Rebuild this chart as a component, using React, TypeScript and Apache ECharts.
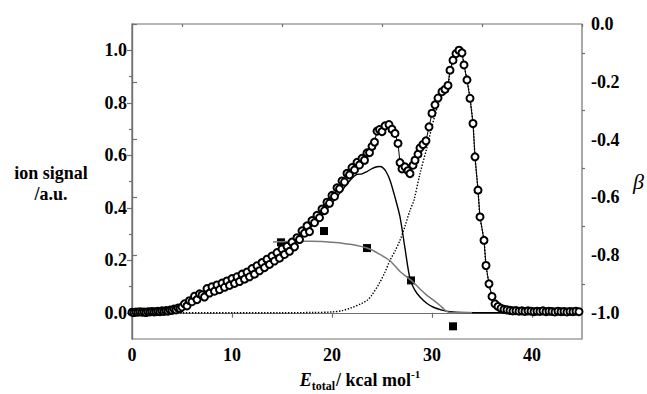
import React, { useEffect, useRef } from "react";
import * as echarts from "echarts";

// ---- data ----
const ionE = [
  0, 0.2, 0.4, 0.6, 0.8, 1.0, 1.2, 1.4, 1.6, 1.8, 2.0, 2.2, 2.4, 2.6, 2.8, 3.0, 3.2, 3.4, 3.6, 3.8, 4.0, 4.2, 4.4, 4.6, 4.8,
  5.0, 5.25, 5.5, 5.75, 6.0, 6.25, 6.5, 6.75, 7.0, 7.25, 7.5, 7.75, 8.0, 8.25, 8.5, 8.75, 9.0, 9.25, 9.5, 9.75,
  10.0, 10.25, 10.5, 10.75, 11.0, 11.25, 11.5, 11.75, 12.0, 12.25, 12.5, 12.75, 13.0, 13.25, 13.5, 13.75,
  14.0, 14.25, 14.5, 14.75, 15.0, 15.25, 15.5, 15.75, 16.0, 16.25, 16.5, 16.75, 17.0, 17.25, 17.5, 17.75,
  18.0, 18.25, 18.5, 18.75, 19.0, 19.25, 19.5, 19.75, 20.0, 20.25, 20.5, 20.75, 21.0, 21.25, 21.5, 21.75,
  22.0, 22.25, 22.5, 22.75, 23.0, 23.25, 23.5, 23.75, 24.0, 24.25, 24.5, 24.75, 25.0, 25.3, 25.7, 26.0,
  26.3, 26.6, 26.8, 27.0, 27.3, 27.6, 27.8, 28.1, 28.3, 28.6, 28.8, 29.1, 29.4, 29.7, 30.0, 30.3, 30.6,
  31.0, 31.3, 31.6, 31.8, 32.1, 32.4, 32.7, 33.0, 33.2, 33.5, 33.8, 34.1, 34.3, 34.6, 34.8, 35.2, 35.4,
  35.7, 36.0, 36.3, 36.6, 36.9, 37.2, 37.5,
  37.8, 38.1, 38.4, 38.7, 39.0, 39.3, 39.6, 39.9, 40.2, 40.5, 40.8, 41.1, 41.4, 41.7, 42.0, 42.3, 42.6,
  42.9, 43.2, 43.5, 43.8, 44.1, 44.4, 44.7,
];
const ionSignal = [
  0.002, 0.001, 0.003, 0.002, 0.004, 0.002, 0.003, 0.001, 0.004, 0.003, 0.005, 0.003, 0.004, 0.006, 0.004, 0.007, 0.005, 0.008, 0.006, 0.010, 0.009, 0.014, 0.011, 0.018, 0.016,
  0.022, 0.034, 0.026, 0.046, 0.042, 0.063, 0.050, 0.072, 0.068, 0.060, 0.092, 0.075, 0.099, 0.082, 0.106, 0.088, 0.113, 0.097, 0.121, 0.104,
  0.130, 0.112, 0.137, 0.119, 0.147, 0.128, 0.155, 0.137, 0.168, 0.147, 0.179, 0.160, 0.191, 0.172, 0.204, 0.184,
  0.216, 0.197, 0.229, 0.208, 0.243, 0.222, 0.253, 0.234, 0.269, 0.251, 0.286, 0.279, 0.312, 0.303, 0.331, 0.309,
  0.351, 0.343, 0.371, 0.362, 0.395, 0.389, 0.421, 0.417, 0.447, 0.443, 0.476, 0.472, 0.502, 0.498, 0.531, 0.525,
  0.553, 0.544, 0.573, 0.563, 0.588, 0.581, 0.609, 0.610, 0.634, 0.650, 0.692, 0.698, 0.690, 0.712, 0.717, 0.699,
  0.683, 0.645, 0.572, 0.548, 0.556, 0.541, 0.530, 0.562, 0.581, 0.604, 0.628, 0.641, 0.655, 0.708, 0.760, 0.792, 0.818,
  0.842, 0.851, 0.866, 0.924, 0.962, 0.987, 1.000, 0.990, 0.944, 0.887, 0.817, 0.721, 0.594, 0.467, 0.365, 0.276, 0.180,
  0.110, 0.062, 0.034, 0.024, 0.017, 0.013, 0.011,
  0.009, 0.007, 0.008, 0.006, 0.007, 0.005, 0.007, 0.006, 0.004, 0.006, 0.005, 0.007, 0.004, 0.006, 0.005, 0.003, 0.006,
  0.004, 0.005, 0.003, 0.005, 0.004, 0.006, 0.004,
];

const fit1E = [0, 2, 4, 4.5, 5, 6, 7, 8, 9, 10, 11, 12, 13, 14, 15, 16, 17, 18, 19, 20, 21, 22, 22.5, 23, 23.5, 24, 24.5, 24.8, 25.1, 25.4, 25.8, 26.3, 26.8, 27.3, 27.8, 28.3, 28.8, 29.5, 30.2, 31, 31.8, 33, 36, 40, 45];
const fit1Val = [0, 0, 0, 0.003, 0.012, 0.032, 0.052, 0.074, 0.094, 0.113, 0.132, 0.152, 0.176, 0.2, 0.228, 0.258, 0.292, 0.33, 0.372, 0.418, 0.466, 0.512, 0.527, 0.529, 0.538, 0.549, 0.556, 0.557, 0.552, 0.538, 0.505, 0.44, 0.365, 0.245, 0.13, 0.085, 0.06, 0.035, 0.02, 0.01, 0.004, 0.001, 0, 0, 0];

const fit2E = [0, 5, 10, 15, 18, 20, 21, 22, 23, 23.5, 24, 24.8, 25.3, 25.8, 26.3, 26.8, 27.3, 27.8, 28.2, 28.8, 29.5, 30.0, 30.5, 31.0, 31.6, 31.8, 32.1, 32.4, 32.7, 33.0, 33.2, 33.5, 33.8, 34.1, 34.3, 34.6, 34.8, 35.2, 35.4, 35.7, 36.0, 36.3, 36.9, 37.5, 40, 45];
const fit2Val = [0, 0, 0, 0, 0.001, 0.003, 0.008, 0.02, 0.036, 0.047, 0.068, 0.117, 0.155, 0.2, 0.235, 0.276, 0.33, 0.39, 0.43, 0.53, 0.63, 0.71, 0.78, 0.83, 0.87, 0.92, 0.96, 0.985, 0.998, 0.99, 0.944, 0.887, 0.817, 0.721, 0.594, 0.467, 0.365, 0.276, 0.18, 0.11, 0.062, 0.034, 0.017, 0.008, 0.002, 0];

const betaFitE = [14.1, 15, 16, 17, 18, 19, 20, 21, 22, 23, 23.5, 24.2, 24.8, 25.3, 25.8, 26.3, 26.8, 27.4, 28.0, 28.8, 29.5, 30.2, 30.8, 31.2, 31.5, 32, 33, 34];
const betaFitVal = [-0.755, -0.754, -0.753, -0.752, -0.752, -0.753, -0.756, -0.759, -0.764, -0.771, -0.776, -0.786, -0.798, -0.808, -0.82, -0.838, -0.857, -0.874, -0.89, -0.918, -0.94, -0.958, -0.975, -0.988, -0.996, -1.0, -1.0, -1.0];

const betaE = [14.9, 19.2, 23.5, 27.9, 32.1];
const betaVal = [-0.756, -0.717, -0.776, -0.888, -1.047];

const xMajorTicks = [0, 10, 20, 30, 40];
const xMinorTicks = [5, 15, 25, 35, 45];
const yLeftTicks = [0, 0.2, 0.4, 0.6, 0.8, 1.0];
const yLeftMinor = [0.1, 0.3, 0.5, 0.7, 0.9];
const yRightTicks = [0, -0.2, -0.4, -0.6, -0.8, -1.0];
const yRightMinor = [-0.1, -0.3, -0.5, -0.7, -0.9];

const zip = (a: number[], b: number[]) => a.map((v, i) => [v, b[i]]);

const AXIS_COLOR = "#707070";
const FONT = "Liberation Serif";

export default function App() {
  const ref = useRef<HTMLDivElement>(null);
  useEffect(() => {
    document.body.style.margin = "0";
    if (!ref.current) return;
    const chart = echarts.init(ref.current, null, { renderer: "svg" });
    const labelStyle = { fontFamily: FONT, fontWeight: "bold" as const, fontSize: 18, color: "#000" };
    const leftMin = -0.1, leftMax = 1.1;
    const rightMin = -12 / 11, rightMax = 0;
    const tickStyle = { color: AXIS_COLOR, width: 1.2 };
    chart.setOption({
      animation: false,
      backgroundColor: "#fff",
      grid: {
        left: 132, right: 65, top: 24, bottom: 55,
        show: true, borderColor: AXIS_COLOR, borderWidth: 1.2,
        outerBoundsMode: "none",
      },
      xAxis: [
        {
          type: "value", min: 0, max: 45, position: "bottom",
          axisLine: { show: true, lineStyle: tickStyle },
          axisTick: { show: true, customValues: xMajorTicks, length: 5, lineStyle: tickStyle },
          axisLabel: { customValues: xMajorTicks, margin: 7, ...labelStyle },
          splitLine: { show: false },
        },
        {
          type: "value", min: 0, max: 45, position: "bottom", gridIndex: 0,
          axisLine: { show: false },
          axisTick: { show: true, customValues: xMinorTicks, length: 3, lineStyle: tickStyle },
          axisLabel: { show: false },
          splitLine: { show: false },
        },
      ],
      yAxis: [
        {
          type: "value", min: leftMin, max: leftMax, position: "left",
          axisLine: { show: true, lineStyle: tickStyle },
          axisTick: { show: true, customValues: yLeftTicks, length: 5, lineStyle: tickStyle },
          axisLabel: { customValues: yLeftTicks, margin: 5, formatter: (v: number) => v.toFixed(1), ...labelStyle },
          splitLine: { show: false },
        },
        {
          type: "value", min: rightMin, max: rightMax, position: "right",
          axisLine: { show: true, lineStyle: tickStyle },
          axisTick: { show: true, customValues: yRightTicks, length: 5, lineStyle: tickStyle },
          axisLabel: {
            customValues: yRightTicks, margin: 9,
            formatter: (v: number) => (Math.abs(v) < 1e-9 ? "0.0" : v.toFixed(1)),
            ...labelStyle,
          },
          splitLine: { show: false },
        },
        {
          type: "value", min: leftMin, max: leftMax, position: "left",
          axisLine: { show: false },
          axisTick: { show: true, customValues: yLeftMinor, length: 3, lineStyle: tickStyle },
          axisLabel: { show: false },
          splitLine: { show: false },
        },
        {
          type: "value", min: rightMin, max: rightMax, position: "right",
          axisLine: { show: false },
          axisTick: { show: true, customValues: yRightMinor, length: 3, lineStyle: tickStyle },
          axisLabel: { show: false },
          splitLine: { show: false },
        },
      ],
      series: [
        {
          name: "fit2", type: "line", xAxisIndex: 0, yAxisIndex: 0,
          data: zip(fit2E, fit2Val), smooth: 0.3, symbol: "none",
          lineStyle: { color: "#000", width: 1.4, type: [1.4, 1.6] },
        },
        {
          name: "fit1", type: "line", xAxisIndex: 0, yAxisIndex: 0,
          data: zip(fit1E, fit1Val), smooth: 0.3, symbol: "none",
          lineStyle: { color: "#000", width: 1.4 },
        },
        {
          name: "betaFit", type: "line", xAxisIndex: 0, yAxisIndex: 1,
          data: zip(betaFitE, betaFitVal), smooth: 0.3, symbol: "none",
          lineStyle: { color: "#7a7a7a", width: 1.5 },
        },
        {
          name: "ion", type: "line", xAxisIndex: 0, yAxisIndex: 0,
          data: zip(ionE, ionSignal), symbol: "emptyCircle", symbolSize: 7,
          itemStyle: { color: "#000", borderWidth: 1.2 },
          lineStyle: { color: "#000", width: 1 },
        },
        {
          name: "beta", type: "scatter", xAxisIndex: 0, yAxisIndex: 1,
          data: zip(betaE, betaVal), symbol: "rect", symbolSize: 8,
          itemStyle: { color: "#000", opacity: 1 },
        },
      ],
      graphic: [
        {
          type: "text", x: 51, y: 173,
          style: { text: "ion signal", fontFamily: FONT, fontWeight: "bold", fontSize: 18, fill: "#000", align: "center", verticalAlign: "middle" },
        },
        {
          type: "text", x: 51, y: 194,
          style: { text: "/a.u.", fontFamily: FONT, fontWeight: "bold", fontSize: 18, fill: "#000", align: "center", verticalAlign: "middle" },
        },
        {
          type: "text", x: 633, y: 181,
          style: { text: "β", fontFamily: FONT, fontStyle: "italic", fontSize: 22, fill: "#000", align: "left", verticalAlign: "middle" },
        },
        {
          type: "text", x: 360, y: 380,
          style: {
            text: "{e|E}{sub|total}{n|/ kcal mol}{sup|-1}",
            align: "center", verticalAlign: "middle",
            rich: {
              e: { fontFamily: FONT, fontStyle: "italic", fontWeight: "bold", fontSize: 18, fill: "#000", lineHeight: 24, verticalAlign: "middle" },
              sub: { fontFamily: FONT, fontWeight: "bold", fontSize: 12, fill: "#000", lineHeight: 12, verticalAlign: "bottom" },
              n: { fontFamily: FONT, fontWeight: "bold", fontSize: 18, fill: "#000", lineHeight: 24, verticalAlign: "middle", padding: [0, 0, 0, 1] },
              sup: { fontFamily: FONT, fontWeight: "bold", fontSize: 11, fill: "#000", lineHeight: 12, verticalAlign: "top" },
            },
          },
        },
      ],
    });
    return () => chart.dispose();
  }, []);
  return <div ref={ref} style={{ width: 647, height: 394 }} />;
}
